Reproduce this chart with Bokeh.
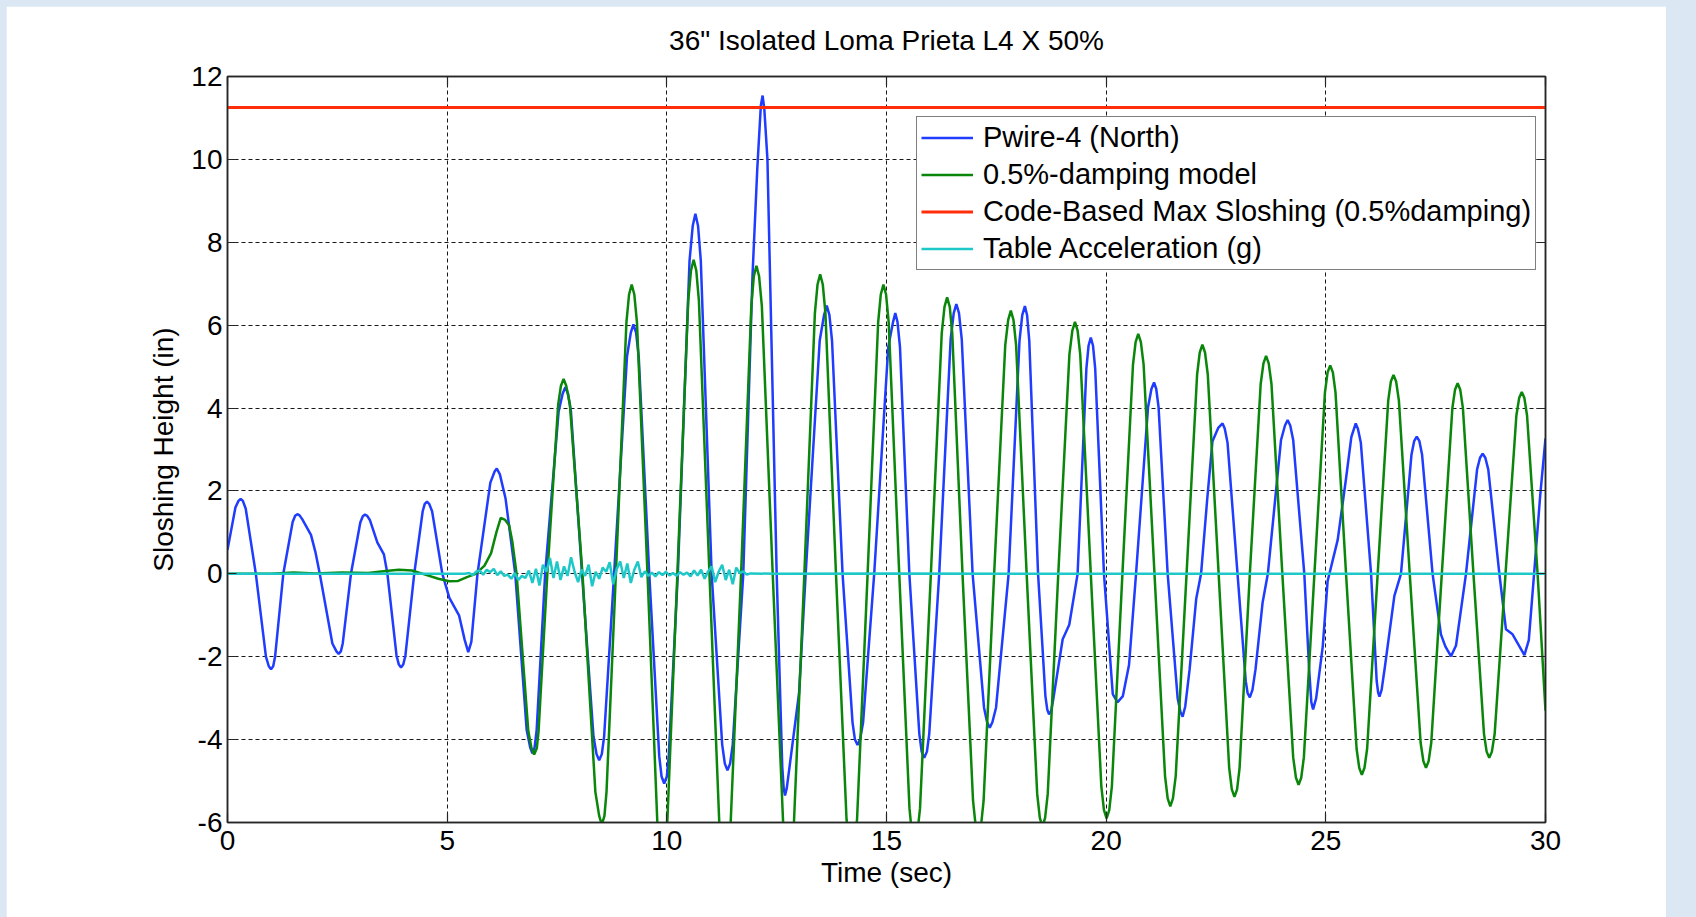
from bokeh.plotting import figure
from bokeh.models import (Range1d, SingleIntervalTicker, LinearAxis, Legend, LegendItem,
                          CustomJSTickFormatter, CustomLabelingPolicy)
from bokeh.layouts import column
from bokeh.embed import file_html
from bokeh.resources import INLINE

FONT = "Liberation Sans"

title_text = '36" Isolated Loma Prieta L4 X 50%'
x_label = "Time (sec)"
y_label = "Sloshing Height (in)"
series_names = ["Pwire-4 (North)", "0.5%-damping model",
                "Code-Based Max Sloshing (0.5%damping)", "Table Acceleration (g)"]
time_span = [0.0, 30.0]
y_limits = [-6.0, 12.0]
code_max_height = 11.25

# Pwire-4 (North) measured sloshing height (time s, height in)
pwire_pts = [
    (0.00, 0.58), (0.18, 1.60), (0.25, 1.76), (0.30, 1.81), (0.35, 1.76), (0.415, 1.57), (0.645, 0.0),
    (0.875, -2.00), (0.94, -2.23), (0.99, -2.30), (1.04, -2.23), (1.083, -2.00), (1.27, 0.0), (1.483, 1.25),
    (1.54, 1.40), (1.59, 1.44), (1.64, 1.41), (1.70, 1.32), (1.90, 0.94), (2.00, 0.53), (2.10, 0.0),
    (2.387, -1.68), (2.48, -1.87), (2.53, -1.93), (2.58, -1.87), (2.623, -1.68), (2.81, 0.0), (3.023, 1.24),
    (3.08, 1.39), (3.13, 1.43), (3.18, 1.40), (3.24, 1.30), (3.41, 0.76), (3.56, 0.47), (3.64, 0.0),
    (3.847, -1.97), (3.90, -2.19), (3.95, -2.26), (4.00, -2.19), (4.05, -1.97), (4.25, 0.0), (4.443, 1.51),
    (4.49, 1.69), (4.54, 1.74), (4.59, 1.69), (4.657, 1.51), (4.89, 0.0), (5.05, -0.58), (5.27, -1.00),
    (5.40, -1.60), (5.48, -1.89), (5.55, -1.64), (5.69, 0.0), (5.983, 2.20), (6.08, 2.47), (6.13, 2.54),
    (6.20, 2.40), (6.33, 1.81), (6.55, 0.0), (6.81, -3.77), (6.89, -4.19), (6.94, -4.33), (6.99, -4.19),
    (7.037, -3.77), (7.23, 0.0), (7.537, 3.92), (7.63, 4.35), (7.69, 4.50), (7.75, 4.35), (7.817, 3.92),
    (8.07, 0.0), (8.33, -3.92), (8.40, -4.35), (8.46, -4.50), (8.52, -4.35), (8.573, -3.92), (8.80, 0.0),
    (9.093, 5.24), (9.18, 5.82), (9.24, 6.02), (9.30, 5.82), (9.36, 5.24), (9.60, 0.0), (9.827, -4.40),
    (9.88, -4.89), (9.94, -5.06), (10.00, -4.89), (10.043, -4.40), (10.25, 0.0), (10.517, 7.56), (10.59, 8.40),
    (10.65, 8.69), (10.71, 8.40), (10.773, 7.56), (11.02, 0.0), (11.26, -4.12), (11.32, -4.58), (11.38, -4.74),
    (11.44, -4.58), (11.50, -4.12), (11.74, 0.0), (11.95, 7.20), (12.06, 9.80), (12.14, 11.30), (12.18, 11.54),
    (12.22, 11.20), (12.29, 10.00), (12.50, 0.0), (12.627, -4.65), (12.66, -5.17), (12.69, -5.35),
    (12.73, -5.17), (12.80, -4.60), (13.01, -2.87), (13.16, 0.0), (13.48, 5.63), (13.58, 6.25), (13.64, 6.47),
    (13.70, 6.25), (13.76, 5.63), (14.00, 0.0), (14.227, -3.59), (14.28, -3.99), (14.34, -4.13), (14.40, -3.99),
    (14.467, -3.59), (14.72, 0.0), (15.04, 5.47), (15.15, 6.08), (15.20, 6.29), (15.25, 6.08), (15.307, 5.47),
    (15.52, 0.0), (15.747, -3.86), (15.80, -4.29), (15.86, -4.44), (15.92, -4.29), (15.973, -3.86), (16.20, 0.0),
    (16.46, 5.66), (16.53, 6.29), (16.59, 6.51), (16.65, 6.29), (16.713, 5.66), (16.96, 0.0), (17.22, -3.23),
    (17.29, -3.58), (17.35, -3.71), (17.41, -3.58), (17.493, -3.23), (17.78, 0.0), (18.027, 5.62), (18.09, 6.24),
    (18.15, 6.46), (18.20, 6.24), (18.25, 5.62), (18.45, 0.0), (18.617, -2.95), (18.66, -3.28), (18.70, -3.39),
    (18.75, -3.30), (18.80, -3.00), (19.01, -1.58), (19.16, -1.23), (19.35, 0.0), (19.55, 4.96), (19.60, 5.51),
    (19.65, 5.70), (19.70, 5.51), (19.75, 4.96), (19.95, 0.0), (20.15, -2.90), (20.26, -3.10), (20.38, -2.95),
    (20.52, -2.20), (20.68, 0.0), (20.953, 4.02), (21.03, 4.46), (21.09, 4.62), (21.14, 4.46), (21.193, 4.02),
    (21.40, 0.0), (21.627, -3.00), (21.69, -3.33), (21.74, -3.45), (21.80, -3.20), (21.90, -2.30), (22.05, -0.60),
    (22.16, 0.0), (22.30, 1.80), (22.42, 3.20), (22.55, 3.52), (22.65, 3.63), (22.70, 3.50), (22.763, 3.16),
    (22.99, 0.0), (23.177, -2.59), (23.22, -2.88), (23.27, -2.98), (23.33, -2.80), (23.40, -2.30), (23.56, -0.70),
    (23.68, 0.0), (23.98, 3.23), (24.07, 3.58), (24.13, 3.71), (24.19, 3.58), (24.257, 3.23), (24.51, 0.0),
    (24.62, -2.30), (24.67, -3.10), (24.71, -3.27), (24.78, -3.00), (24.93, -1.75), (25.04, -0.18), (25.27, 0.82),
    (25.46, 2.30), (25.58, 3.30), (25.68, 3.63), (25.73, 3.50), (25.797, 3.16), (26.03, 0.0), (26.157, -2.58),
    (26.19, -2.86), (26.22, -2.96), (26.27, -2.80), (26.35, -2.20), (26.56, -0.53), (26.71, 0.0), (26.95, 2.88),
    (27.01, 3.20), (27.07, 3.31), (27.13, 3.20), (27.19, 2.88), (27.43, 0.0), (27.62, -1.46), (27.72, -1.75),
    (27.85, -1.99), (27.963, -1.73), (28.19, 0.0), (28.443, 2.52), (28.51, 2.80), (28.57, 2.90), (28.63, 2.80),
    (28.697, 2.52), (28.95, 0.0), (29.10, -1.34), (29.25, -1.46), (29.52, -1.96), (29.62, -1.60), (29.74, 0.0),
    (29.88, 1.90), (30.00, 3.27),
]

# 0.5%-damping model (time s, height in)
model_pts = [
    (0.0, 0.0), (1.0, 0.0), (1.5, 0.03), (2.0, 0.01), (2.6, 0.03), (3.2, 0.02), (3.6, 0.07), (3.9, 0.10),
    (4.2, 0.08), (4.5, -0.02), (4.8, -0.12), (5.05, -0.18), (5.25, -0.17), (5.45, -0.08), (5.65, 0.0),
    (5.85, 0.20), (6.0, 0.50), (6.12, 1.00), (6.22, 1.35), (6.32, 1.30), (6.41, 1.17), (6.48, 0.80), (6.58, 0.0),
    (6.847, -3.80), (6.92, -4.21), (6.98, -4.36), (7.04, -4.21), (7.08, -3.80), (7.28, 0.0),
    (7.527, 4.09), (7.59, 4.54), (7.65, 4.70), (7.71, 4.54), (7.793, 4.09), (8.08, 0.0),
    (8.373, -5.26), (8.46, -5.84), (8.52, -6.05), (8.58, -5.84), (8.627, -5.26), (8.84, 0.0),
    (9.08, 6.07), (9.14, 6.74), (9.20, 6.98), (9.26, 6.74), (9.32, 6.07), (9.56, 0.0),
    (9.787, -6.09), (9.83, -6.76), (9.89, -7.00), (9.95, -6.76), (10.007, -6.09), (10.24, 0.0),
    (10.487, 6.59), (10.55, 7.32), (10.61, 7.58), (10.67, 7.32), (10.73, 6.59), (10.97, 0.0),
    (11.203, -6.26), (11.26, -6.95), (11.32, -7.20), (11.38, -6.95), (11.443, -6.26), (11.69, 0.0),
    (11.923, 6.46), (11.98, 7.18), (12.04, 7.43), (12.10, 7.18), (12.163, 6.46), (12.41, 0.0),
    (12.65, -6.09), (12.71, -6.76), (12.77, -7.00), (12.83, -6.76), (12.89, -6.09), (13.13, 0.0),
    (13.37, 6.29), (13.43, 6.98), (13.49, 7.23), (13.55, 6.98), (13.61, 6.29), (13.85, 0.0),
    (14.09, -5.92), (14.15, -6.57), (14.21, -6.80), (14.27, -6.57), (14.33, -5.92), (14.57, 0.0),
    (14.81, 6.07), (14.87, 6.74), (14.93, 6.98), (14.99, 6.74), (15.05, 6.07), (15.29, 0.0),
    (15.523, -5.66), (15.58, -6.28), (15.64, -6.50), (15.70, -6.28), (15.763, -5.66), (16.01, 0.0),
    (16.257, 5.80), (16.32, 6.44), (16.38, 6.67), (16.44, 6.44), (16.497, 5.80), (16.73, 0.0),
    (16.97, -5.48), (17.03, -6.09), (17.09, -6.30), (17.15, -6.09), (17.21, -5.48), (17.45, 0.0),
    (17.703, 5.52), (17.77, 6.13), (17.83, 6.35), (17.89, 6.13), (17.95, 5.52), (18.19, 0.0),
    (18.43, -5.31), (18.49, -5.89), (18.55, -6.10), (18.61, -5.89), (18.67, -5.31), (18.91, 0.0),
    (19.163, 5.29), (19.23, 5.87), (19.29, 6.08), (19.35, 5.87), (19.41, 5.29), (19.65, 0.0),
    (19.89, -5.13), (19.95, -5.70), (20.01, -5.90), (20.07, -5.70), (20.13, -5.13), (20.37, 0.0),
    (20.61, 5.04), (20.67, 5.59), (20.73, 5.79), (20.79, 5.59), (20.853, 5.04), (21.10, 0.0),
    (21.34, -4.88), (21.40, -5.42), (21.46, -5.61), (21.52, -5.42), (21.583, -4.88), (21.83, 0.0),
    (22.07, 4.81), (22.13, 5.34), (22.19, 5.53), (22.25, 5.34), (22.313, 4.81), (22.56, 0.0),
    (22.80, -4.68), (22.86, -5.20), (22.92, -5.38), (22.98, -5.20), (23.037, -4.68), (23.27, 0.0),
    (23.517, 4.58), (23.58, 5.08), (23.64, 5.26), (23.70, 5.08), (23.763, 4.58), (24.01, 0.0),
    (24.257, -4.43), (24.32, -4.92), (24.38, -5.09), (24.44, -4.92), (24.50, -4.43), (24.74, 0.0),
    (24.98, 4.38), (25.04, 4.86), (25.10, 5.03), (25.16, 4.86), (25.22, 4.38), (25.46, 0.0),
    (25.70, -4.22), (25.76, -4.68), (25.82, -4.85), (25.88, -4.68), (25.94, -4.22), (26.18, 0.0),
    (26.42, 4.18), (26.48, 4.64), (26.54, 4.80), (26.60, 4.64), (26.663, 4.18), (26.91, 0.0),
    (27.157, -4.07), (27.22, -4.52), (27.28, -4.68), (27.34, -4.52), (27.40, -4.07), (27.64, 0.0),
    (27.88, 4.00), (27.94, 4.44), (28.00, 4.60), (28.06, 4.44), (28.12, 4.00), (28.36, 0.0),
    (28.60, -3.86), (28.66, -4.29), (28.72, -4.44), (28.78, -4.29), (28.843, -3.86), (29.09, 0.0),
    (29.337, 3.82), (29.40, 4.24), (29.46, 4.39), (29.52, 4.24), (29.58, 3.82), (29.82, 0.0),
    (30.00, -3.30),
]

# Table acceleration (time s, g)
table_pts = [
    (0.00, 0.00), (5.40, 0.00),
    (5.50, 0.02), (5.58, -0.03), (5.66, 0.05), (5.74, 0.08), (5.82, -0.02), (5.90, 0.10), (5.98, 0.04),
    (6.06, 0.12), (6.14, -0.03), (6.22, 0.06), (6.30, -0.05), (6.38, -0.02), (6.46, -0.12), (6.54, 0.02),
    (6.62, -0.15), (6.70, -0.05), (6.78, -0.10), (6.86, 0.08), (6.94, -0.22), (7.02, 0.12), (7.10, -0.28),
    (7.18, 0.22), (7.26, 0.05), (7.34, 0.38), (7.42, -0.10), (7.50, 0.30), (7.58, -0.15), (7.66, 0.18),
    (7.74, -0.05), (7.82, 0.40), (7.90, 0.05), (7.98, -0.20), (8.06, 0.10), (8.14, -0.05), (8.22, 0.22),
    (8.30, -0.30), (8.38, 0.05), (8.46, -0.12), (8.54, 0.15), (8.62, 0.05), (8.70, 0.28), (8.78, -0.25),
    (8.86, 0.12), (8.94, 0.30), (9.02, -0.10), (9.10, 0.25), (9.18, -0.22), (9.26, 0.10), (9.34, 0.30),
    (9.42, -0.08), (9.50, 0.06), (9.58, -0.05), (9.66, 0.03), (9.74, -0.06), (9.82, 0.04), (9.90, -0.03),
    (9.98, 0.05), (10.06, -0.04), (10.14, 0.02), (10.22, -0.05), (10.30, 0.04), (10.38, -0.02), (10.46, 0.03),
    (10.54, -0.06), (10.62, 0.08), (10.70, -0.04), (10.78, 0.10), (10.86, -0.12), (10.94, 0.06), (11.02, 0.18),
    (11.10, -0.20), (11.18, 0.05), (11.26, 0.22), (11.34, -0.15), (11.42, 0.10), (11.50, -0.25), (11.58, 0.15),
    (11.66, 0.02), (11.74, 0.06), (11.82, -0.02), (11.90, 0.01), (12.50, 0.00), (15.00, 0.01), (20.00, 0.00),
    (30.00, 0.00),
]

pwire_t, pwire_v = [list(a) for a in zip(*pwire_pts)]
model_t, model_v = [list(a) for a in zip(*model_pts)]
table_t, table_v = [list(a) for a in zip(*table_pts)]

BLUE = "#1f3cff"
GREEN = "#0a870a"
RED = "#ff2d0a"
CYAN = "#1ec8c8"
FRAME = "#262626"

p = figure(width=1660, height=911, output_backend="svg", toolbar_location=None,
           x_range=Range1d(time_span[0], time_span[1]), y_range=Range1d(y_limits[0], y_limits[1]),
           min_border_left=221, min_border_right=121, min_border_top=70, min_border_bottom=95,
           background_fill_color="white", border_fill_color="white")
p.margin = (6, 30, 0, 6)

plain_fmt = CustomJSTickFormatter(code="return tick.toFixed(0);")

p.xaxis.ticker = SingleIntervalTicker(interval=5)
p.yaxis.ticker = SingleIntervalTicker(interval=2)
for ax in (p.xaxis[0], p.yaxis[0]):
    ax.formatter = plain_fmt
    ax.major_label_text_font = FONT
    ax.major_label_text_font_size = "28px"
    ax.major_label_text_color = "black"
    ax.axis_label_text_font = FONT
    ax.axis_label_text_font_size = "28px"
    ax.axis_label_text_font_style = "normal"
    ax.axis_label_text_color = "black"
    ax.major_tick_in = 9
    ax.major_tick_out = 0
    ax.minor_tick_line_color = None
    ax.axis_line_color = FRAME
    ax.axis_line_width = 1.5
    ax.major_tick_line_color = FRAME
    ax.major_tick_line_width = 1.2
p.xaxis.axis_label = x_label
p.yaxis.axis_label = y_label
p.xaxis.major_label_standoff = 4
p.yaxis.major_label_standoff = 1
p.xaxis.axis_label_standoff = 4
p.yaxis.axis_label_standoff = 9

# box ticks on top and right (no labels)
no_labels = CustomLabelingPolicy(code="""
    const all = Array.from(indices);
    for (const i of all) { if (indices.unset) indices.unset(i); }
    return indices;
""")
top_ax = LinearAxis(ticker=SingleIntervalTicker(interval=5), major_label_policy=no_labels,
                    major_tick_in=9, major_tick_out=0, minor_tick_line_color=None,
                    axis_line_color=FRAME, axis_line_width=1.5, major_label_standoff=0,
                    major_tick_line_color=FRAME, major_tick_line_width=1.2)
right_ax = LinearAxis(ticker=SingleIntervalTicker(interval=2), major_label_policy=no_labels,
                      major_tick_in=9, major_tick_out=0, minor_tick_line_color=None,
                      axis_line_color=FRAME, axis_line_width=1.5, major_label_standoff=0,
                      major_tick_line_color=FRAME, major_tick_line_width=1.2)
p.add_layout(top_ax, "above")
p.add_layout(right_ax, "right")

for g in (p.xgrid[0], p.ygrid[0]):
    g.grid_line_color = "black"
    g.grid_line_dash = "4 3"
    g.grid_line_width = 1
    g.grid_line_alpha = 0.9
p.outline_line_color = FRAME
p.outline_line_width = 1.5

p.title.text = title_text
p.title.text_font = FONT
p.title.text_font_size = "28px"
p.title.text_font_style = "normal"
p.title.text_color = "black"
p.title.align = "center"
p.title.standoff = 11

r_pwire = p.line(pwire_t, pwire_v, line_color=BLUE, line_width=2.5)
r_model = p.line(model_t, model_v, line_color=GREEN, line_width=2.5)
r_code = p.line(time_span, [code_max_height, code_max_height], line_color=RED, line_width=3)
r_table = p.line(table_t, table_v, line_color=CYAN, line_width=2.5)

legend = Legend(items=[LegendItem(label=series_names[0], renderers=[r_pwire]),
                       LegendItem(label=series_names[1], renderers=[r_model]),
                       LegendItem(label=series_names[2], renderers=[r_code]),
                       LegendItem(label=series_names[3], renderers=[r_table])],
                location=(689, 552))
legend.label_text_font = FONT
legend.label_text_font_size = "29px"
legend.label_text_color = "black"
legend.glyph_width = 52
legend.glyph_height = 33
legend.label_height = 33
legend.spacing = 4
legend.padding = 4
legend.margin = 0
legend.label_standoff = 10
legend.border_line_color = "black"
legend.border_line_width = 1.2
legend.background_fill_color = "white"
legend.background_fill_alpha = 1.0
p.add_layout(legend)

root = column(p, width=1696, height=917, styles={"background-color": "#dbe8f4"})
open("out.html", "w").write(file_html(root, INLINE))
